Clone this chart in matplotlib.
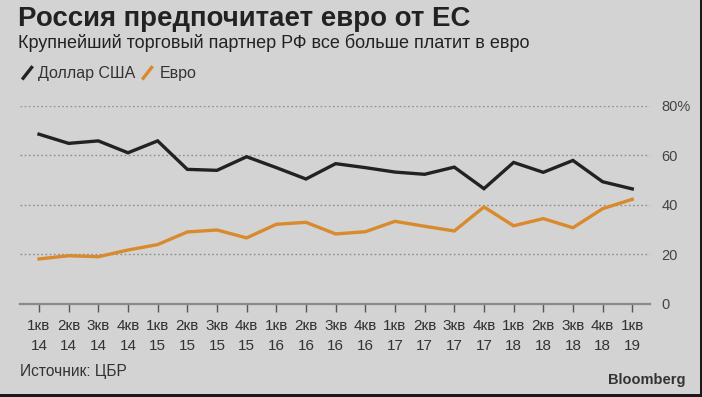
import matplotlib
matplotlib.use("Agg")
import matplotlib.pyplot as plt
from matplotlib.patches import Rectangle
from matplotlib.lines import Line2D

plt.rcParams['font.family'] = ['Liberation Sans', 'DejaVu Sans']

# данные
quarters = ["1кв", "2кв", "3кв", "4кв"] * 5 + ["1кв"]
years = ["14"] * 4 + ["15"] * 4 + ["16"] * 4 + ["17"] * 4 + ["18"] * 4 + ["19"]
usd = [68.6, 64.9, 65.9, 61.1, 65.9, 54.4, 54.0, 59.5, 55.1, 50.5, 56.7,
       55.1, 53.3, 52.4, 55.3, 46.6, 57.2, 53.2, 58.0, 49.4, 46.5]
eur = [18.2, 19.5, 19.1, 21.8, 24.0, 29.1, 29.9, 26.7, 32.2, 33.0, 28.3,
       29.2, 33.4, 31.4, 29.5, 39.2, 31.6, 34.5, 30.8, 38.5, 42.3]
yticks = [0, 20, 40, 60, 80]
ytick_labels = ["0", "20", "40", "60", "80%"]

BG = "#d3d3d3"
BLACK = "#222222"
ORANGE = "#d88a2c"

fig = plt.figure(figsize=(7.02, 3.97), dpi=100, facecolor=BG)
ax = fig.add_axes([0.0285, 0.2343, 0.8975, 0.4987], facecolor=BG)

x = list(range(len(usd)))
ax.plot(x, usd, color=BLACK, lw=2.4, solid_joinstyle='miter')
ax.plot(x, eur, color=ORANGE, lw=2.4, solid_joinstyle='miter')

ax.set_xlim(-0.64, 20.6)
ax.set_ylim(0, 80)
for s in ["top", "left", "right"]:
    ax.spines[s].set_visible(False)
ax.spines["bottom"].set_color("#8a8a8a")
ax.spines["bottom"].set_linewidth(1.6)

for v in yticks[1:]:
    ax.axhline(v, color="#8e8e8e", lw=1.0, ls=(0, (1.2, 1.8)), zorder=0)

ax.yaxis.tick_right()
ax.set_yticks(yticks)
ax.set_yticklabels(ytick_labels, fontsize=10.5, color="#444444")
ax.tick_params(axis="y", length=0, pad=8)

ax.set_xticks(x)
ax.set_xticklabels([q + "\n" + y for q, y in zip(quarters, years)],
                   fontsize=11, color="#333333", linespacing=1.5)
ax.tick_params(axis="x", length=6, width=1, color="#555555", pad=5)

fig.text(0.025, 0.953, "Россия предпочитает евро от ЕС", fontsize=19.9,
         fontweight="bold", color="#222222", va="center")
fig.text(0.025, 0.892, "Крупнейший торговый партнер РФ все больше платит в евро",
         fontsize=13, color="#222222", va="center")

fig.add_artist(Line2D([0.033, 0.045], [0.803, 0.830], color=BLACK, lw=2.4))
fig.text(0.054, 0.816, "Доллар США", fontsize=11.5, color="#333333", va="center")
fig.add_artist(Line2D([0.204, 0.216], [0.803, 0.830], color=ORANGE, lw=2.4))
fig.text(0.228, 0.816, "Евро", fontsize=11.5, color="#333333", va="center")

fig.text(0.028, 0.065, "Источник: ЦБР", fontsize=11.2, color="#333333", va="center")
fig.text(0.976, 0.043, "Bloomberg", fontsize=10.5, fontweight="bold",
         color="#333333", va="center", ha="right")

# тёмная рамка снизу и справа
fig.add_artist(Rectangle((0, 0), 1, 0.008, transform=fig.transFigure,
                         color="#1a1a1a", lw=0))
fig.add_artist(Rectangle((0.997, 0), 0.003, 1, transform=fig.transFigure,
                         color="#1a1a1a", lw=0))

fig.savefig("out.png", dpi=100, facecolor=BG)
